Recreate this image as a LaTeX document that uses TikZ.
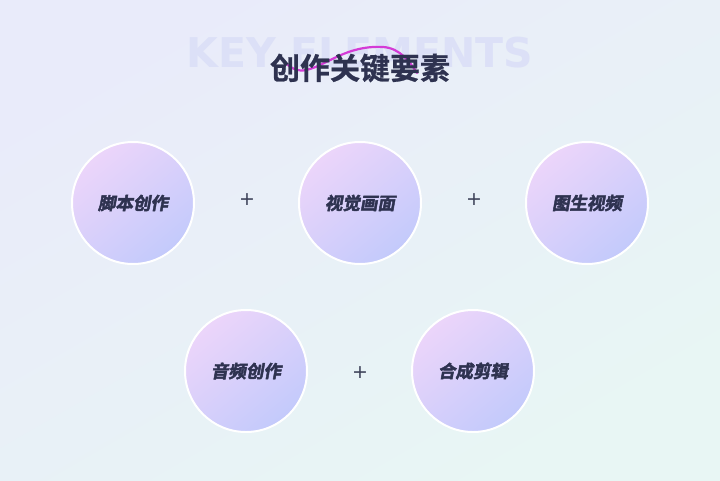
\documentclass[tikz,border=0pt]{standalone}
\usepackage{fontspec}
\newfontfamily\cjk{Noto Sans CJK SC}[BoldFont={* Bold},BoldFeatures={FakeBold=0.8}]
\newfontfamily\cjkslant{Noto Sans CJK SC}[BoldFont={* Bold},BoldFeatures={FakeSlant=0.18,FakeBold=2.6}]
\newfontfamily\latinbold{DejaVu Sans}
\definecolor{bgA}{HTML}{E9EBFA}
\definecolor{bgB}{HTML}{E8F6F4}
\definecolor{cirA}{HTML}{ECD5FA}
\definecolor{cirB}{HTML}{C3CAFB}
\definecolor{ink}{HTML}{2E3250}
\definecolor{plusc}{HTML}{3C4158}
\definecolor{ghost}{HTML}{DCE0F7}
\definecolor{wave}{HTML}{D43BD6}
\tikzset{
  elem/.style={circle, minimum size=122pt, inner sep=0pt, draw=white, line width=2pt,
    top color=cirA, bottom color=cirB, shading angle=40,
    font=\cjkslant\bfseries\fontsize{17.5}{17.5}\selectfont, text=ink},
  plus/.style={font=\latinbold\fontsize{19}{19}\selectfont, text=plusc, inner sep=0pt}
}
\begin{document}
\begin{tikzpicture}[x=1pt,y=-1pt]
\useasboundingbox (0,0) rectangle (720,480);
\shade[top color=bgA, bottom color=bgB, shading angle=30] (0,0) rectangle (720,480);
\node[font=\latinbold\bfseries\fontsize{41}{41}\selectfont, text=ghost, inner sep=0pt] (ghosttxt) at (360,53) {KEY ELEMENTS};
\coordinate (w0) at (282,59);
\coordinate (w1) at (306,70);
\coordinate (w2) at (383,47);
\coordinate (w3) at (417,73);
\draw[wave, line width=2.2pt, line cap=round] (w0) .. controls (289,68) and (298,72) .. (w1)
  .. controls (326,66) and (346,45) .. (w2) .. controls (400,48) and (410,62) .. (w3);
\node[font=\cjk\bfseries\fontsize{30}{30}\selectfont, text=ink, inner sep=0pt] (title) at (360,68) {创作关键要素};
\node[elem] (e1) at (133,203) {脚本创作};
\node[elem] (e2) at (360,203) {视觉画面};
\node[elem] (e3) at (587,203) {图生视频};
\node[elem] (e4) at (246,371) {音频创作};
\node[elem] (e5) at (473,371) {合成剪辑};
\node[plus] (p1) at (247,200) {+};
\node[plus] (p2) at (474,200) {+};
\node[plus] (p3) at (360,373) {+};
\end{tikzpicture}
\end{document}
